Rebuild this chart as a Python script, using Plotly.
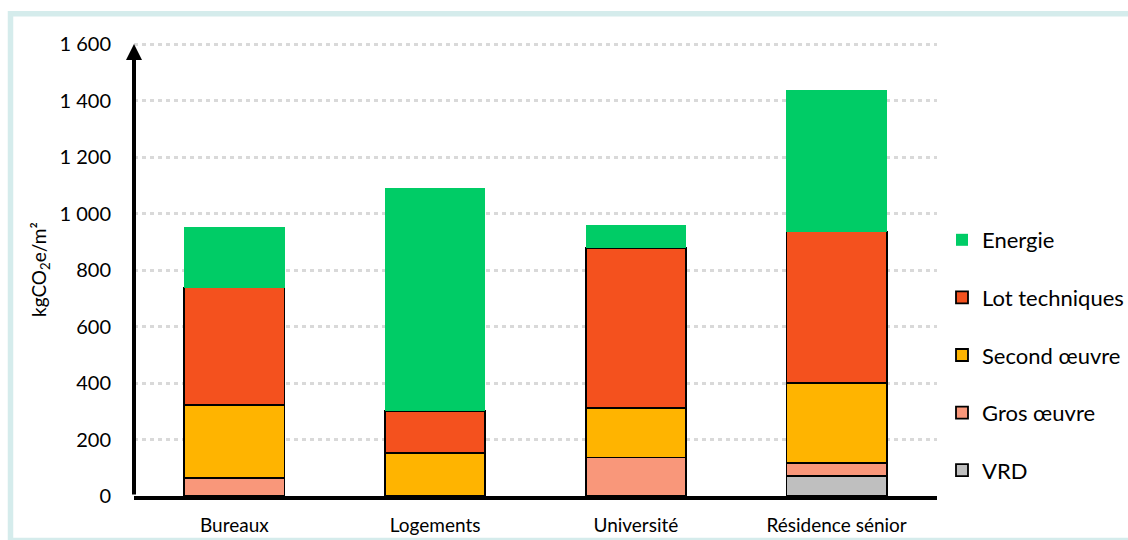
import plotly.graph_objects as go

# ---------------- data ----------------
categories = ["Bureaux", "Logements", "Université", "Résidence sénior"]
vrd = [None, None, None, 70]
gros_oeuvre = [64, None, 136, 47]
second_oeuvre = [257, 152, 176, 282]
lot_techniques = [417, 148, 566, 537]
energie = [215, 791, 83, 501]

series_names = ["VRD", "Gros œuvre", "Second œuvre", "Lot techniques", "Energie"]
series_values = [vrd, gros_oeuvre, second_oeuvre, lot_techniques, energie]
series_colors = ["#BFBFBF", "#F9977A", "#FFB400", "#F4511E", "#00CC66"]
series_outline = [1.8, 1.8, 1.8, 1.8, 0]

y_tick_values = [0, 200, 400, 600, 800, 1000, 1200, 1400, 1600]
y_tick_labels = ["0", "200", "400", "600", "800", "1 000", "1 200", "1 400", "1 600"]
y_title = "kgCO<sub>2</sub>e/m²"

FONT = "Lato"
FS = 19

# plot-area geometry (pixels)
W, H = 1128, 540
L, R, T, B = 134, 191, 42, 44
pw, ph = W - L - R, H - T - B
Y_TOP = 1600 * ph / (ph - 2)   # leaves 2 px above the 1 600 line so its gridline is drawn

fig = go.Figure()
n = len(series_names)
for i, (name, vals, col, lw) in enumerate(zip(series_names, series_values, series_colors, series_outline)):
    fig.add_trace(go.Bar(
        x=categories, y=vals, name=name, legendgroup=name,
        legendrank=n - i,
        marker=dict(color=col, line=dict(color="black", width=lw)),
    ))

fig.update_layout(
    width=W, height=H, autosize=False,
    margin=dict(l=L, r=R, t=T, b=B, autoexpand=False),
    barmode="stack", bargap=0.5,
    plot_bgcolor="white", paper_bgcolor="white",
    font=dict(family=FONT, size=FS, color="black"),
    showlegend=True,
    legend=dict(
        xref="container", yref="container",
        x=942 / W, xanchor="left",
        y=1 - 219 / H, yanchor="top",
        traceorder="grouped", tracegroupgap=26,
        font=dict(family=FONT, size=22, color="black"),
        bgcolor="rgba(0,0,0,0)",
    ),
    xaxis=dict(
        automargin=False,
        showline=True, linewidth=4, linecolor="black",
        showgrid=False, ticks="", ticklabelstandoff=9,
        tickfont=dict(family=FONT, size=FS, color="black"),
    ),
    yaxis=dict(
        automargin=False,
        range=[0, Y_TOP], tickvals=y_tick_values, ticktext=y_tick_labels,
        showline=False, zeroline=False,
        showgrid=True, gridcolor="#D9D9D9", gridwidth=3, griddash="4px,4px",
        ticks="", ticklabelstandoff=22,
        tickfont=dict(family=FONT, size=20, color="black"),
    ),
)

# y-axis line with arrow head (axis decoration)
fig.add_annotation(
    x=0, xref="paper", y=1600, yref="y",
    ax=0, axref="pixel", ay=0, ayref="y",
    text="", showarrow=True, arrowhead=2, arrowsize=0.8,
    arrowwidth=4, arrowcolor="black",
)

# y-axis title
fig.add_annotation(
    x=(40 - L) / pw, xref="paper", y=(H - B - 270) / ph, yref="paper",
    text=y_title, showarrow=False, textangle=-90,
    font=dict(family=FONT, size=FS, color="black"),
    xanchor="center", yanchor="middle",
)

# light teal frame around the chart
fig.add_shape(
    type="rect", xref="paper", yref="paper",
    x0=(10.5 - L) / pw, x1=(1140 - L) / pw,
    y0=(H - B - 540.5) / ph, y1=(H - B - 13.8) / ph,
    line=dict(color="#D5ECEC", width=5.5), fillcolor="rgba(0,0,0,0)",
    layer="below",
)

fig.write_html(
    "out.html",
    config={"displayModeBar": False},
    post_script="document.body.style.margin='0';document.body.style.overflow='hidden';",
)
